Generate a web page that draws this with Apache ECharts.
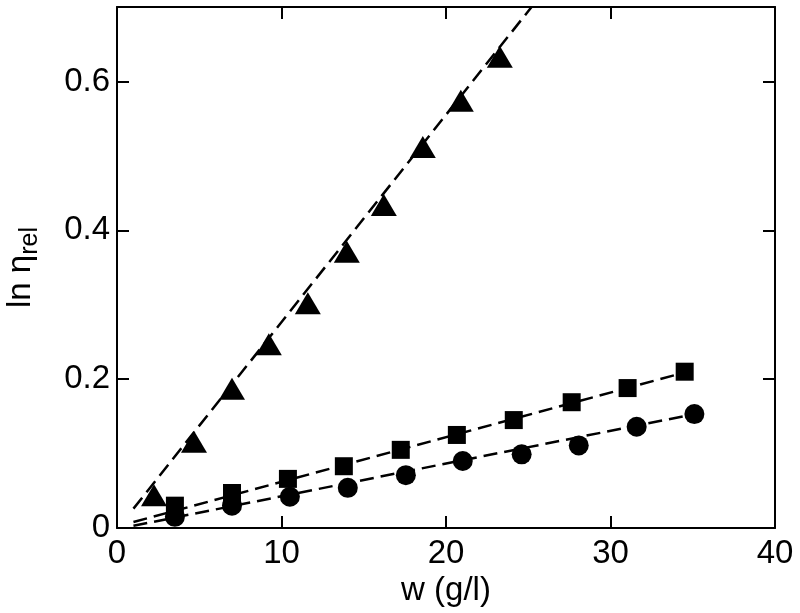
<!DOCTYPE html>
<html>
<head>
<meta charset="utf-8">
<script src="https://cdn.jsdelivr.net/npm/echarts@6/dist/echarts.min.js"></script>
<style>
  html, body { margin: 0; padding: 0; background: #fff; }
  #chart { width: 800px; height: 613px; }
</style>
</head>
<body>
<div id="chart"></div>
<script>
// data
const triangleW = [2.25, 4.68, 6.99, 9.23, 11.6, 13.97, 16.22, 18.59, 20.9, 23.27]
const triangleY = [0.044, 0.116, 0.187, 0.247, 0.302, 0.371, 0.434, 0.512, 0.574, 0.633]
const squareW = [3.52, 6.99, 10.39, 13.79, 17.25, 20.66, 24.12, 27.64, 31.04, 34.51]
const squareY = [0.030, 0.047, 0.066, 0.083, 0.105, 0.125, 0.145, 0.169, 0.188, 0.210]
const circleW = [3.52, 6.99, 10.51, 14.03, 17.56, 21.02, 24.6, 28.07, 31.59, 35.1]
const circleY = [0.015, 0.030, 0.042, 0.054, 0.071, 0.090, 0.099, 0.111, 0.136, 0.153]
// dashed fit lines, end points
const triangleFit = [[1, 0.026], [25.2, 0.7]]
const squareFit = [[1, 0.008], [34.5, 0.209]]
const circleFit = [[1, 0.003], [35.1, 0.153]]
const xTicks = [0, 40, 10]
const yTicks = [0, 0.7, 0.2]

const font = '"Liberation Sans", Arial, Helvetica, sans-serif'
const black = '#000'

function pairs(xs, ys) {
  return xs.map((x, i) => [x, ys[i]])
}

function markers(name, symbol, size, xs, ys) {
  return {
    name: name,
    type: 'scatter',
    symbol: symbol,
    symbolSize: size,
    itemStyle: { color: black, opacity: 1 },
    data: pairs(xs, ys),
    z: 3
  }
}

function fitLine(data) {
  return {
    type: 'line',
    data: data,
    showSymbol: false,
    symbol: 'none',
    lineStyle: { color: black, width: 2.5, type: [14, 7] },
    clip: true,
    z: 2
  }
}

const axisLine = { show: true, onZero: false, lineStyle: { color: black, width: 2 } }
const axisTick = { show: true, inside: true, length: 12, lineStyle: { color: black, width: 2 } }

const chart = echarts.init(document.getElementById('chart'))
chart.setOption({
  animation: false,
  backgroundColor: '#fff',
  grid: { left: 117, right: 25, top: 7, bottom: 85, outerBoundsMode: 'none', containLabel: false },
  xAxis: [
    {
      type: 'value',
      min: xTicks[0],
      max: xTicks[1],
      interval: xTicks[2],
      position: 'bottom',
      axisLine: axisLine,
      axisTick: axisTick,
      splitLine: { show: false },
      axisLabel: { color: black, fontSize: 33, fontFamily: font, margin: 9 },
      name: 'w (g/l)',
      nameLocation: 'middle',
      nameGap: 44,
      nameTextStyle: { color: black, fontSize: 33, fontFamily: font }
    },
    {
      type: 'value',
      min: xTicks[0],
      max: xTicks[1],
      interval: xTicks[2],
      position: 'top',
      axisLine: axisLine,
      axisTick: axisTick,
      splitLine: { show: false },
      axisLabel: { show: false }
    }
  ],
  yAxis: [
    {
      type: 'value',
      min: yTicks[0],
      max: yTicks[1],
      interval: yTicks[2],
      position: 'left',
      axisLine: axisLine,
      axisTick: axisTick,
      splitLine: { show: false },
      axisLabel: { color: black, fontSize: 33, fontFamily: font, margin: 7, showMaxLabel: false },
      name: '{a|ln η}{b|rel}',
      nameLocation: 'middle',
      nameRotate: 90,
      nameGap: 74,
      nameTextStyle: {
        rich: {
          a: { color: black, fontSize: 33, fontFamily: font, lineHeight: 44, verticalAlign: 'middle' },
          b: { color: black, fontSize: 25, fontFamily: font, lineHeight: 25, padding: [19, 0, 0, 0], verticalAlign: 'bottom' }
        }
      }
    },
    {
      type: 'value',
      min: yTicks[0],
      max: yTicks[1],
      interval: yTicks[2],
      position: 'right',
      axisLine: axisLine,
      axisTick: axisTick,
      splitLine: { show: false },
      axisLabel: { show: false }
    }
  ],
  series: [
    fitLine(triangleFit),
    fitLine(squareFit),
    fitLine(circleFit),
    markers('triangle', 'triangle', [26, 22], triangleW, triangleY),
    markers('square', 'rect', 18, squareW, squareY),
    markers('circle', 'circle', 20, circleW, circleY)
  ]
})

window.addEventListener('resize', () => chart.resize())
</script>
</body>
</html>
